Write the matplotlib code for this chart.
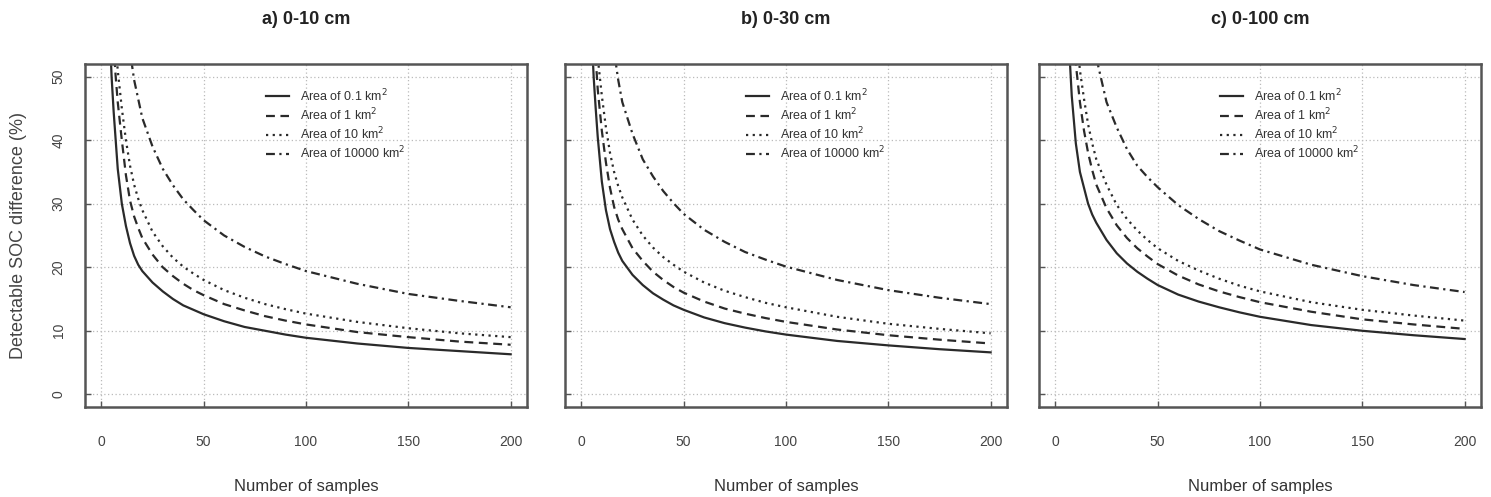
import numpy as np
import matplotlib.pyplot as plt

plt.rcParams['font.family'] = ['Liberation Sans', 'DejaVu Sans']

# number of samples (x grid shared by all curves)
n = [4, 5, 6, 7, 8, 10, 12, 14, 16, 18, 20, 25, 30, 35, 40, 45, 50, 60, 70, 80, 90, 100, 125, 150, 175, 200]
nan = np.nan

labels = ['Area of 0.1 km$^2$', 'Area of 1 km$^2$', 'Area of 10 km$^2$', 'Area of 10000 km$^2$']
titles = ['a) 0-10 cm', 'b) 0-30 cm', 'c) 0-100 cm']

# a) 0-10 cm
a_01 = [58, 50, 44.5, 40, 35.5, 30, 26.5, 23.8, 21.8, 20.4, 19.4, 17.6, 16.2, 15.0, 14.0, 13.3, 12.6, 11.5, 10.6, 10.0, 9.4, 8.9, 8.0, 7.3, 6.8, 6.3]
a_1 = [nan, 62, 55, 50, 46, 40, 34.5, 30.5, 28, 26.2, 24.6, 22, 20, 18.6, 17.4, 16.4, 15.6, 14.2, 13.2, 12.3, 11.6, 11.0, 9.8, 9.0, 8.3, 7.8]
a_10 = [nan, nan, 60, 55, 51, 45, 40, 36, 33, 30.8, 29, 25.6, 23.3, 21.5, 20.1, 19.0, 18, 16.4, 15.2, 14.2, 13.4, 12.7, 11.4, 10.4, 9.6, 9.0]
a_10000 = [nan, nan, nan, nan, nan, nan, 62, 54, 49.5, 46.5, 43.5, 39, 35.5, 32.9, 30.7, 29.0, 27.4, 25, 23.2, 21.7, 20.5, 19.4, 17.4, 15.8, 14.7, 13.7]

# b) 0-30 cm
b_01 = [68, 57, 50, 45, 40.5, 33.5, 29, 26, 24, 22.3, 21, 18.8, 17.2, 15.9, 14.9, 14.0, 13.3, 12.1, 11.2, 10.5, 9.9, 9.4, 8.4, 7.7, 7.1, 6.6]
b_1 = [nan, 70, 60, 53, 48, 41.5, 36.5, 32.5, 29.5, 27.5, 26, 23, 21, 19.3, 18, 16.9, 16, 14.6, 13.5, 12.7, 12.0, 11.4, 10.2, 9.3, 8.6, 8.0]
b_10 = [nan, nan, 66, 58, 53, 47, 42, 38, 35, 32.8, 31, 27.5, 25, 23.1, 21.6, 20.4, 19.3, 17.6, 16.3, 15.3, 14.4, 13.7, 12.2, 11.1, 10.3, 9.6]
b_10000 = [nan, nan, nan, nan, nan, nan, 70, 60, 54, 49.5, 46, 41, 37, 34.3, 32, 30.1, 28.4, 25.9, 24.0, 22.4, 21.2, 20.1, 18, 16.4, 15.2, 14.2]

# c) 0-100 cm
c_01 = [nan, nan, 62, 53, 47, 39.5, 35, 32.5, 30, 28.3, 27, 24.3, 22.2, 20.6, 19.3, 18.2, 17.2, 15.7, 14.6, 13.7, 12.9, 12.2, 10.9, 10.0, 9.3, 8.7]
c_1 = [nan, nan, nan, nan, 64, 52, 46, 41.5, 38, 35.3, 33, 29.3, 26.6, 24.6, 23, 21.7, 20.5, 18.7, 17.3, 16.2, 15.3, 14.5, 13, 11.8, 11, 10.3]
c_10 = [nan, nan, nan, nan, nan, 58, 51, 46.5, 42.5, 39.5, 37, 33, 29.8, 27.6, 25.8, 24.3, 23, 21, 19.5, 18.2, 17.1, 16.2, 14.5, 13.3, 12.4, 11.6]
c_10000 = [nan, nan, nan, nan, nan, nan, nan, nan, 66, 58, 53, 46, 42, 38.6, 36, 34.2, 32.6, 29.8, 27.6, 25.7, 24.2, 22.8, 20.4, 18.6, 17.2, 16.1]

panels = [[a_01, a_1, a_10, a_10000], [b_01, b_1, b_10, b_10000], [c_01, c_1, c_10, c_10000]]
styles = ['-', (0, (4, 2.5)), (0, (1, 2)), (0, (4, 2, 1, 2))]
lefts = [85, 565, 1039]

fig = plt.figure(figsize=(14.91, 4.97), dpi=100)
for i, series in enumerate(panels):
    ax = fig.add_axes([lefts[i] / 1491, 1 - 407 / 497, 442 / 1491, 343 / 497])
    for y, ls, lab in zip(series, styles, labels):
        ax.plot(n, y, linestyle=ls, color='#2a2a2a', linewidth=1.6, label=lab)
    ax.set_xlim(-8, 208)
    ax.set_ylim(-2, 52)
    ax.set_xticks([0, 50, 100, 150, 200])
    ax.set_yticks([0, 10, 20, 30, 40, 50])
    ax.grid(True, linestyle=(0, (1, 2)), color='#bbbbbb', linewidth=0.9)
    ax.tick_params(direction='in', length=4, width=1, colors='#555555',
                   labelcolor='#444444', labelsize=10, top=False, right=False)
    ax.tick_params(axis='x', pad=20)
    ax.tick_params(axis='y', pad=14)
    if i == 0:
        for t in ax.get_yticklabels():
            t.set_rotation(90)
            t.set_va('center')
        ax.set_ylabel('Detectable SOC difference (%)', fontsize=13, color='#444444', labelpad=18)
    else:
        ax.set_yticklabels([])
    for s in ax.spines.values():
        s.set_linewidth(1.8)
        s.set_color('#555555')
    ax.set_xlabel('Number of samples', fontsize=12, color='#333333', labelpad=22)
    ax.set_title(titles[i], fontsize=13, fontweight='bold', color='#222222', pad=29)
    ax.legend(loc='upper left', bbox_to_anchor=(0.385, 0.965), frameon=False, fontsize=9,
              handlelength=1.8, handletextpad=0.9, labelspacing=0.2, labelcolor='#333333')

fig.savefig('out.png', dpi=100)
